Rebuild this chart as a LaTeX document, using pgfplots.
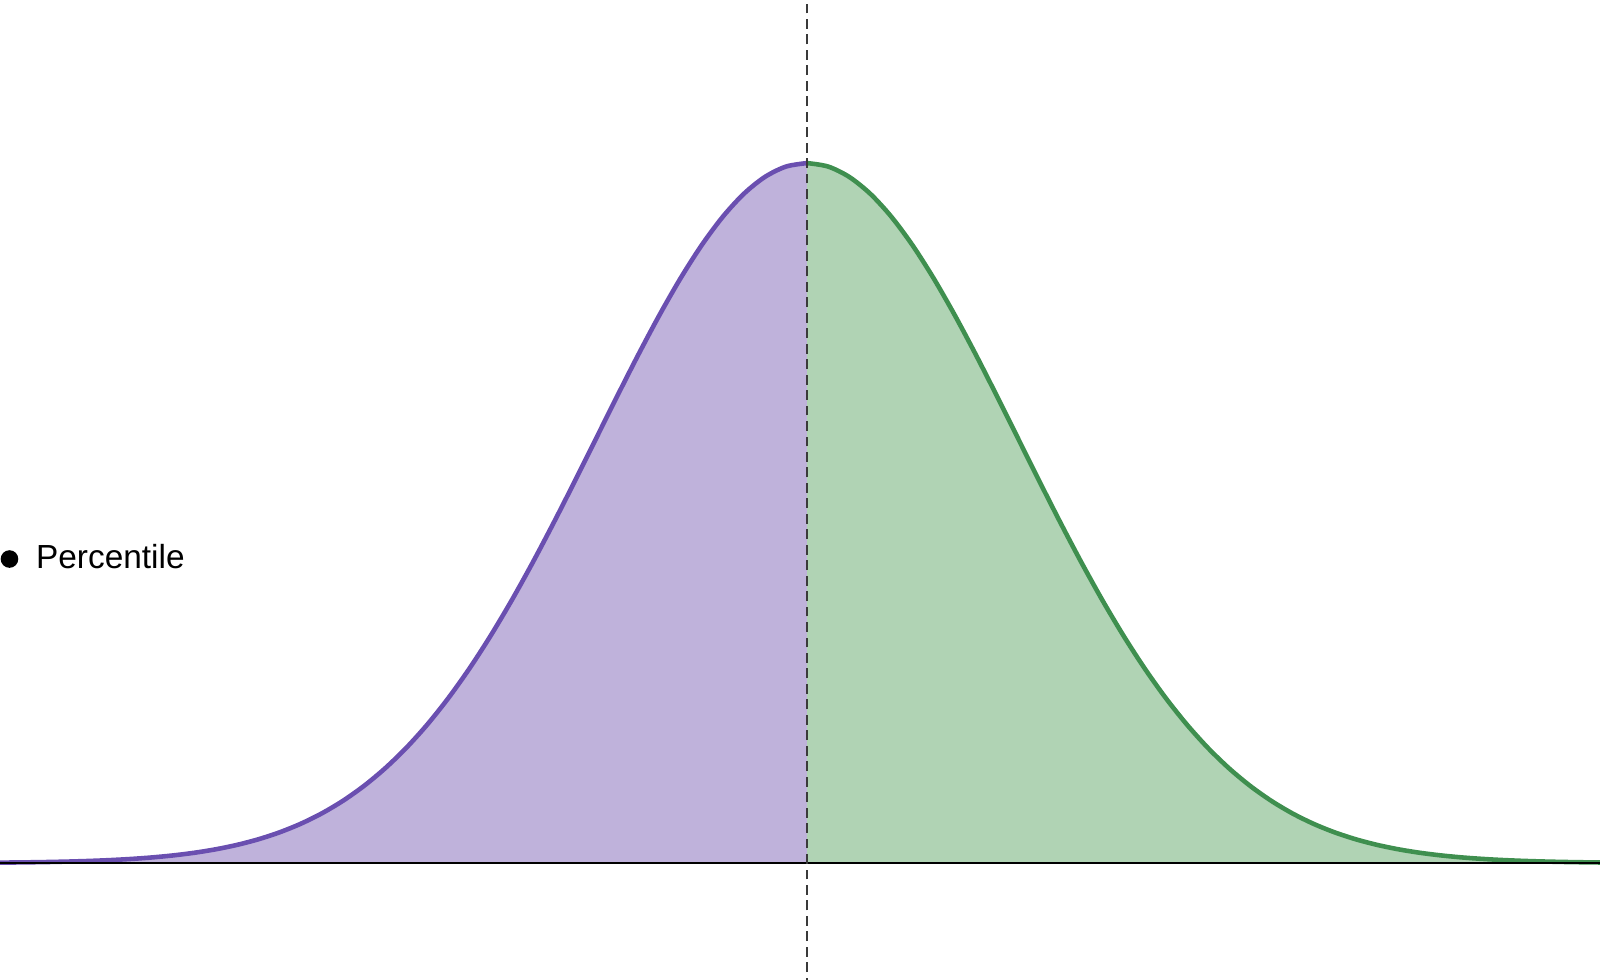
\documentclass[border=0pt]{standalone}
\usepackage{pgfplots}
\usepackage{pgfplotstable}
\usepackage{fontspec}
\setmainfont{Liberation Sans}
\pgfplotsset{compat=1.18}
\definecolor{pfill}{HTML}{BFB2DB}
\definecolor{pline}{HTML}{6A4FB0}
\definecolor{gfill}{HTML}{B0D3B4}
\definecolor{gline}{HTML}{3F8F4F}
\definecolor{dashgray}{HTML}{3A3A3A}
\pgfplotstableread{
x y
-3.9 0.00050
-3.8 0.00073
-3.7 0.00106
-3.6 0.00153
-3.5 0.00219
-3.4 0.00309
-3.3 0.00432
-3.2 0.00598
-3.1 0.00819
-3.0 0.01111
-2.9 0.01492
-2.8 0.01984
-2.7 0.02612
-2.6 0.03405
-2.5 0.04394
-2.4 0.05613
-2.3 0.07100
-2.2 0.08892
-2.1 0.11025
-2.0 0.13534
-1.9 0.16447
-1.8 0.19790
-1.7 0.23575
-1.6 0.27804
-1.5 0.32465
-1.4 0.37531
-1.3 0.42956
-1.2 0.48675
-1.1 0.54607
-1.0 0.60653
-0.9 0.66698
-0.8 0.72615
-0.7 0.78270
-0.6 0.83527
-0.5 0.88250
-0.4 0.92312
-0.3 0.95600
-0.2 0.98020
-0.1 0.99501
0.0 1.00000
}\lefttab
\pgfplotstableread{
x y
0.0 1.00000
0.1 0.99501
0.2 0.98020
0.3 0.95600
0.4 0.92312
0.5 0.88250
0.6 0.83527
0.7 0.78270
0.8 0.72615
0.9 0.66698
1.0 0.60653
1.1 0.54607
1.2 0.48675
1.3 0.42956
1.4 0.37531
1.5 0.32465
1.6 0.27804
1.7 0.23575
1.8 0.19790
1.9 0.16447
2.0 0.13534
2.1 0.11025
2.2 0.08892
2.3 0.07100
2.4 0.05613
2.5 0.04394
2.6 0.03405
2.7 0.02612
2.8 0.01984
2.9 0.01492
3.0 0.01111
3.1 0.00819
3.2 0.00598
3.3 0.00432
3.4 0.00309
3.5 0.00219
3.6 0.00153
3.7 0.00106
3.8 0.00073
3.9 0.00050
}\righttab
\begin{document}
\begin{tikzpicture}
\begin{axis}[
  scale only axis,
  width=16cm, height=9.8cm,
  xmin=-3.825, xmax=3.758,
  ymin=-0.167, ymax=1.233,
  hide axis,
  clip=true,
  legend style={draw=none, fill=none, at={(0.0,0.4306)}, anchor=west,
    inner sep=0pt, font=\fontsize{9.5}{11}\selectfont,
    legend cell align=left,
    /tikz/every odd column/.append style={column sep=-0.36cm},
    /tikz/every even column/.append style={column sep=0pt}},
]
\addplot[draw=none, fill=pfill, forget plot] table[x=x,y=y] {\lefttab} \closedcycle;
\addplot[draw=none, fill=gfill, forget plot] table[x=x,y=y] {\righttab} \closedcycle;
\addplot[pline, line width=1.3pt, smooth, forget plot] table[x=x,y=y] {\lefttab};
\addplot[gline, line width=1.3pt, smooth, forget plot] table[x=x,y=y] {\righttab};
\addplot[black, line width=0.6pt, forget plot] coordinates {(-4,0) (4,0)};
\addplot[dashgray, line width=0.75pt, dash pattern=on 2.8pt off 1.6pt, forget plot] coordinates {(0,-0.2) (0,1.3)};
\addlegendimage{legend image code/.code={\fill[black] (0.10cm,0cm) circle (2.3pt); \path (0,0) (0.28cm,0);}}
\addlegendentry{Percentile}
\end{axis}
\end{tikzpicture}
\end{document}
